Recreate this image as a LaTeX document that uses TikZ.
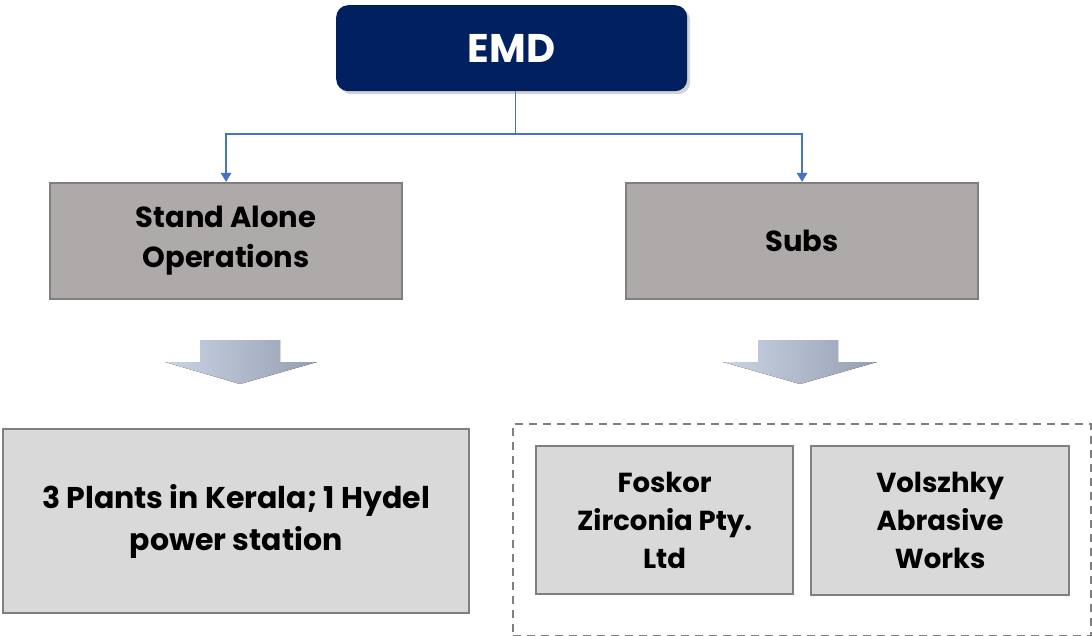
\documentclass[tikz,border=0pt]{standalone}
\usepackage{fontspec}
\setmainfont{Poppins}
\usetikzlibrary{shadows,arrows.meta}
\definecolor{navy}{HTML}{002060}
\definecolor{conn}{HTML}{4472C4}
\definecolor{midgray}{HTML}{AEAAAA}
\definecolor{lightgray}{HTML}{D9D9D9}
\definecolor{edgegray}{HTML}{7F7F7F}
\definecolor{arrA}{HTML}{CBD4E4}
\definecolor{arrB}{HTML}{959FB2}
\tikzset{
  x=1pt, y=-1pt,
  topbox/.style={draw=none, fill=navy, rounded corners=12pt, text=white, font=\fontsize{40}{48}\selectfont\bfseries,
     drop shadow={shadow xshift=3pt, shadow yshift=-3pt, opacity=0.35}},
  midbox/.style={draw=edgegray, line width=2.2pt, fill=midgray, font=\fontsize{29}{40}\selectfont\bfseries, align=center},
  lowbox/.style={draw=edgegray, line width=2.2pt, fill=lightgray, font=\fontsize{27.5}{38}\selectfont\bfseries, align=center},
  conline/.style={draw=conn, line width=2.2pt},
  blockarrow/.style={left color=arrA, right color=arrB, draw=none},
  groupbox/.style={draw=edgegray, dash pattern=on 8pt off 6pt, line width=1.8pt}
}
\begin{document}
\begin{tikzpicture}
\useasboundingbox (0,0) rectangle (1092,636);
\node[topbox, minimum width=351pt, minimum height=86pt, anchor=north west] (emd) at (336,5) {EMD};
\node[midbox, minimum width=352pt, minimum height=116pt, anchor=north west] (sao) at (49,182) {Stand Alone\\Operations};
\node[midbox, minimum width=352pt, minimum height=116pt, anchor=north west] (subs) at (625,182) {Subs};
\node[lowbox, minimum width=466pt, minimum height=184pt, anchor=north west, font=\fontsize{30}{42}\selectfont\bfseries] (plants) at (2,428) {3 Plants in Kerala; 1 Hydel\\power station};
\node[groupbox, minimum width=578pt, minimum height=212pt, anchor=north west] (grp) at (512,423) {};
\node[lowbox, minimum width=257pt, minimum height=148pt, anchor=north west] (foskor) at (535,445) {Foskor\\Zirconia Pty.\\Ltd};
\node[lowbox, minimum width=258pt, minimum height=149pt, anchor=north west] (volz) at (810,445) {Volszhky\\Abrasive\\Works};
% connectors
\coordinate (j) at (515,134);
\draw[draw=conn, line width=1pt] (emd.south -| j) -- (j);
\draw[conline, -{Triangle[length=9pt,width=10pt]}] (j) -| (sao.north);
\draw[conline, -{Triangle[length=9pt,width=10pt]}] (j) -| (subs.north);
% block arrows
\fill[blockarrow] (200,340) -- (280,340) -- (280,362) -- (317,362) -- (240,384) -- (165,362) -- (200,362) -- cycle;
\fill[blockarrow] (758,340) -- (838,340) -- (838,362) -- (877,362) -- (800,384) -- (723,362) -- (758,362) -- cycle;
\end{tikzpicture}
\end{document}
